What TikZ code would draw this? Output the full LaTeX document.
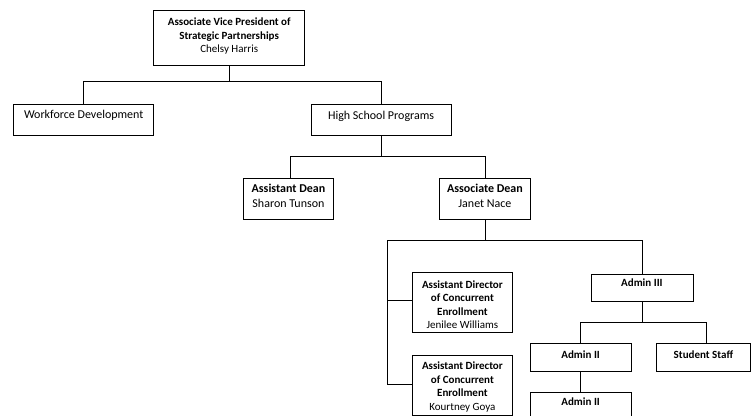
\documentclass[tikz,border=0pt]{standalone}
\usepackage{fontspec}
\setmainfont{Carlito}
% #1 width, #2 height, #3 first baseline below top, #4 text
\newcommand{\bxt}[4]{\parbox[c][#2][t]{#1}{\centering\rule{0pt}{#3}#4}}
\begin{document}
\begin{tikzpicture}[x=1pt,y=-1pt,
  box/.style={draw=black, line width=0.8pt, fill=white, inner sep=0pt, anchor=north west},
  fs/.style={font=\fontsize{11}{13.6}\selectfont},
  fl/.style={font=\fontsize{12}{14.6}\selectfont},
  conn/.style={draw=black, line width=0.8pt}]
\useasboundingbox (0,0) rectangle (751,415);
\clip (0,0) rectangle (751,415);
% boxes
\node[box, fs] (avp) at (153.3,10)
  {\bxt{151pt}{55pt}{15pt}{\textbf{Associate Vice President of}\\\textbf{Strategic Partnerships}\\Chelsy Harris}};
\node[box, fl] (wd) at (13.3,104) {\bxt{140pt}{31pt}{14.5pt}{Workforce Development}};
\node[box, fl] (hs) at (310.7,104) {\bxt{140pt}{31pt}{15pt}{High School Programs}};
\node[box, fl] (ad) at (243.3,177.5) {\bxt{89.5pt}{41pt}{14.8pt}{\textbf{Assistant Dean}\\Sharon Tunson}};
\node[box, fl] (assoc) at (439,177.5) {\bxt{91pt}{41pt}{14.8pt}{\textbf{Associate Dean}\\Janet Nace}};
\node[box, fs] (ad1) at (412,272.3)
  {\bxt{100pt}{60pt}{15.3pt}{\textbf{Assistant Director}\\\textbf{of Concurrent}\\\textbf{Enrollment}\\Jenilee Williams}};
\node[box, fs] (ad2) at (412,354.5)
  {\bxt{100pt}{60pt}{14.8pt}{\textbf{Assistant Director}\\\textbf{of Concurrent}\\\textbf{Enrollment}\\Kourtney Goya}};
\node[box, fs] (a3) at (590.5,274) {\bxt{102pt}{26.5pt}{11.9pt}{\textbf{Admin III}}};
\node[box, fs] (a2) at (529.5,343.3) {\bxt{101.5pt}{28pt}{14.8pt}{\textbf{Admin II}}};
\node[box, fs] (ss) at (655.7,343.3) {\bxt{94.6pt}{28pt}{14.8pt}{\textbf{Student Staff}}};
\node[box, fs] (a2b) at (529.5,391.8) {\bxt{101.5pt}{28pt}{12.8pt}{\textbf{Admin II}}};
% bus coordinates
\coordinate (busA) at (0,81.7);
\coordinate (busB) at (0,156.5);
\coordinate (adx) at (290,0);
\coordinate (busC) at (0,240.5);
\coordinate (lvtop) at (387,240.5);
\coordinate (lvbot) at (387,384.5);
\coordinate (ad1y) at (0,300);
\coordinate (busD) at (0,322.5);
\coordinate (ssx) at (706,0);
% connectors
\draw[conn] (avp.south) -- (avp.south |- busA);
\draw[conn] (wd.north) |- (hs.north |- busA) -- (hs.north);
\draw[conn] (hs.south) -- (hs.south |- busB);
\draw[conn] (adx |- ad.north) |- (assoc.north |- busB) -- (assoc.north);
\draw[conn] (assoc.south) -- (assoc.south |- busC);
\draw[conn] (ad2.west |- lvbot) -- (lvbot) -- (lvtop) -| (a3.north);
\draw[conn] (ad1.west |- ad1y) -- (lvtop |- ad1y);
\draw[conn] (a3.south) -- (a3.south |- busD);
\draw[conn] (a2.north) |- (ssx |- busD) -- (ssx |- ss.north);
\draw[conn] (a2.south) -- (a2b.north);
\end{tikzpicture}
\end{document}
